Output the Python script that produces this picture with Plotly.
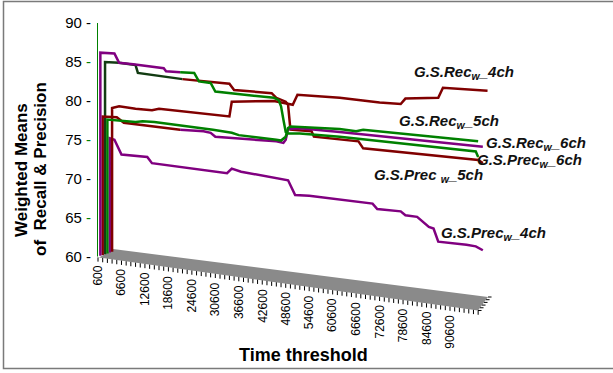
import plotly.graph_objects as go

# ---------------- data ----------------
time_labels = [600, 6600, 12600, 18600, 24600, 30600, 36600, 42600, 48600,
               54600, 60600, 66600, 72600, 78600, 84600, 90600]
y_ticks = [60, 65, 70, 75, 80, 85, 90]

# G.S.Rec_w_4ch
rec4_t = [4200, 4200, 6000, 10200, 14400, 16200, 34200, 34800, 45600, 49200,
          50400, 51600, 62400, 72600, 78000, 79200, 87600, 88800, 100200]
rec4_v = [60.6, 79.1, 79.3, 79.0, 78.8, 79.0, 78.0, 79.9, 80.0, 79.6,
          79.5, 80.8, 80.4, 79.8, 79.6, 80.3, 80.4, 81.7, 81.3]

# G.S.Prec_w_4ch
prec4_t = [3600, 3600, 4800, 6600, 13200, 14400, 33600, 34800, 37200, 49200,
           51000, 54600, 70800, 72000, 78000, 79200, 82200, 85200, 86400,
           87600, 94800, 97200, 99000]
prec4_v = [60.5, 75.2, 75.0, 73.1, 72.8, 72.0, 70.7, 71.3, 70.9, 69.8,
           67.9, 67.8, 66.8, 66.1, 65.8, 65.3, 65.1, 63.8, 63.6,
           61.9, 61.5, 61.3, 60.8]

# G.S.Prec_w_6ch
prec6_t = [1200, 1200, 4800, 6000, 9600, 17400, 18000, 21600, 25200, 26400,
           29400, 30600, 45600, 46800, 47400, 48000, 48600, 49200, 52200,
           62400, 97200, 97800]
prec6_v = [60.1, 86.2, 86.1, 84.9, 84.7, 84.2, 83.8, 83.7, 83.6, 82.5,
           82.3, 81.2, 80.4, 80.1, 79.3, 77.6, 76.0, 75.8, 75.8,
           75.4, 73.5, 72.8]

# G.S.Prec_w_5ch
prec5_t = [2400, 2400, 6000, 10200, 10800, 22200, 34200, 35400, 45000, 46200,
           48600, 49200, 49800, 55200, 55800, 67200, 68400, 97800, 99000]
prec5_v = [60.3, 85.0, 84.9, 84.6, 83.6, 82.8, 82.2, 81.4, 81.0, 80.4,
           79.9, 79.5, 76.3, 76.1, 75.4, 74.8, 73.9, 72.4, 72.0]

# G.S.Rec_w_6ch
rec6_t = [1800, 1800, 5400, 7200, 21600, 27600, 29400, 30600, 46200, 48000,
          48600, 49200, 52200, 62400, 99000]
rec6_v = [60.2, 78.0, 77.9, 77.2, 76.3, 76.1, 75.9, 75.4, 74.8, 74.6,
          75.0, 76.4, 76.5, 76.0, 74.1]

# G.S.Rec_w_5ch
rec5_t = [3000, 3000, 10200, 12000, 15000, 19800, 27600, 30000, 34800, 36600,
          46200, 47400, 48600, 49200, 49800, 62400, 66600, 68400, 97800]
rec5_v = [60.4, 77.6, 77.3, 77.4, 77.3, 77.0, 76.5, 76.3, 75.9, 75.6,
          75.0, 74.9, 75.4, 76.5, 76.7, 76.4, 76.1, 76.3, 74.8]

# ---------------- styling ----------------
DARKRED = "#800000"
PURPLE = "#800080"
GREEN = "#008000"
DARKGREEN = "#123c12"
FONT = "Liberation Sans, Arial, sans-serif"

W, H = 613, 373
ML, MR, MT, MB = 97, 10, 5, 8
PW, PH = W - ML - MR, H - MT - MB
X_RANGE = [344, 129723]
Y_RANGE = [46.05, 92.33]

# floor of the 3-D box (time, value corners)
floor_t = [856, 4436, 100323, 97766, 856]
floor_v = [59.87, 60.96, 54.79, 53.06, 59.87]


def paper_x(px):
    return (px - ML) / PW


def paper_y(py):
    return (H - MB - py) / PH


def front_edge(t):
    t0, v0 = floor_t[0], floor_v[0]
    t1, v1 = floor_t[3], floor_v[3]
    return v0 + (t - t0) * (v1 - v0) / (t1 - t0)


fig = go.Figure()

# floor
fig.add_trace(go.Scatter(x=floor_t, y=floor_v, mode="lines", fill="toself",
                         fillcolor="#8a8a8a", line=dict(width=0),
                         showlegend=False, hoverinfo="skip"))

# tick marks hanging under the floor's front edge
tx, ty = [], []
for t in range(600, 98401, 1200):
    e = front_edge(t)
    tx += [t, t, None]
    ty += [e, e - 0.55, None]
fig.add_trace(go.Scatter(x=tx, y=ty, mode="lines",
                         line=dict(color="black", width=1),
                         showlegend=False, hoverinfo="skip"))

# small comb on the right depth edge
cx, cy = [], []
for k in range(6):
    f = k / 5
    t = floor_t[3] + f * (floor_t[2] - floor_t[3])
    v = floor_v[3] + f * (floor_v[2] - floor_v[3])
    cx += [t, t + 900, None]
    cy += [v, v, None]
fig.add_trace(go.Scatter(x=cx, y=cy, mode="lines",
                         line=dict(color="black", width=1),
                         showlegend=False, hoverinfo="skip"))


def add_series(t, v, segs):
    for a, b, color in segs:
        fig.add_trace(go.Scatter(x=t[a:b + 1], y=v[a:b + 1], mode="lines",
                                 line=dict(color=color, width=2.5),
                                 showlegend=False, hoverinfo="skip"))


add_series(prec4_t, prec4_v, [(0, len(prec4_t) - 1, PURPLE)])
add_series(rec4_t, rec4_v, [(0, len(rec4_t) - 1, DARKRED)])
add_series(prec5_t, prec5_v, [(0, 5, DARKGREEN), (5, len(prec5_t) - 1, DARKRED)])
add_series(rec6_t, rec6_v, [(0, 4, DARKRED), (4, len(rec6_t) - 1, PURPLE)])
add_series(rec5_t, rec5_v, [(0, len(rec5_t) - 1, GREEN)])
add_series(prec6_t, prec6_v, [(0, 7, PURPLE), (7, len(prec6_t) - 1, GREEN)])

# green vertical axis edge
fig.add_shape(type="line", x0=X_RANGE[0], x1=X_RANGE[0], y0=60, y1=90,
              xref="x", yref="y", line=dict(color=GREEN, width=2))

# outer border
fig.add_shape(type="rect", xref="paper", yref="paper",
              x0=paper_x(3.5), x1=paper_x(616), y0=paper_y(368.5), y1=paper_y(1.5),
              line=dict(color="#7a7a7a", width=1.5), layer="above")

annotations = []
# x tick labels along the slanted floor
for t in time_labels:
    annotations.append(dict(x=t, y=front_edge(t) - 0.8, xref="x", yref="y",
                            text=str(t), showarrow=False, textangle=-90,
                            xanchor="center", yanchor="top",
                            font=dict(family=FONT, size=12, color="black")))

# axis titles
annotations.append(dict(x=paper_x(303), y=paper_y(355), xref="paper", yref="paper",
                        text="<b>Time threshold</b>", showarrow=False,
                        xanchor="center", yanchor="middle",
                        font=dict(family=FONT, size=18, color="black")))
annotations.append(dict(x=paper_x(21), y=paper_y(170), xref="paper", yref="paper",
                        text="<b>Weighted Means</b>", showarrow=False, textangle=-90,
                        xanchor="center", yanchor="middle",
                        font=dict(family=FONT, size=17, color="black")))
annotations.append(dict(x=paper_x(40), y=paper_y(169), xref="paper", yref="paper",
                        text="<b>of  Recall &amp; Precision</b>", showarrow=False,
                        textangle=-90, xanchor="center", yanchor="middle",
                        font=dict(family=FONT, size=17, color="black")))

# series labels
series_labels = [
    ("G.S.Rec<sub>w</sub>_4ch", 464, 72),
    ("G.S.Rec<sub>w</sub>_5ch", 449, 122),
    ("G.S.Rec<sub>w</sub>_6ch", 536, 143),
    ("G.S.Prec<sub>w</sub>_6ch", 529, 160),
    ("G.S.Prec <sub>w</sub>_5ch", 428, 175),
    ("G.S.Prec<sub>w</sub>_4ch", 493, 233),
]
for txt, px, py in series_labels:
    annotations.append(dict(x=paper_x(px), y=paper_y(py), xref="paper", yref="paper",
                            text="<b><i>" + txt + "</i></b>", showarrow=False,
                            xanchor="center", yanchor="middle",
                            font=dict(family=FONT, size=15, color="#111111")))

tick_text = []
for v in y_ticks:
    dash_color = GREEN if v in (65, 75, 85) else "black"
    tick_text.append(f"{v} <span style='color:{dash_color}'>-</span>")

fig.update_layout(
    width=W, height=H,
    margin=dict(l=ML, r=MR, t=MT, b=MB, pad=0),
    paper_bgcolor="white", plot_bgcolor="white",
    font=dict(family=FONT, color="black"),
    showlegend=False,
    xaxis=dict(range=X_RANGE, visible=False, fixedrange=True),
    yaxis=dict(range=Y_RANGE, tickvals=y_ticks, ticktext=tick_text,
               showgrid=False, zeroline=False, showline=False, ticks="",
               ticklabelstandoff=5, tickfont=dict(family=FONT, size=15, color="black"),
               fixedrange=True),
    annotations=annotations,
)

fig.write_html("out.html")
